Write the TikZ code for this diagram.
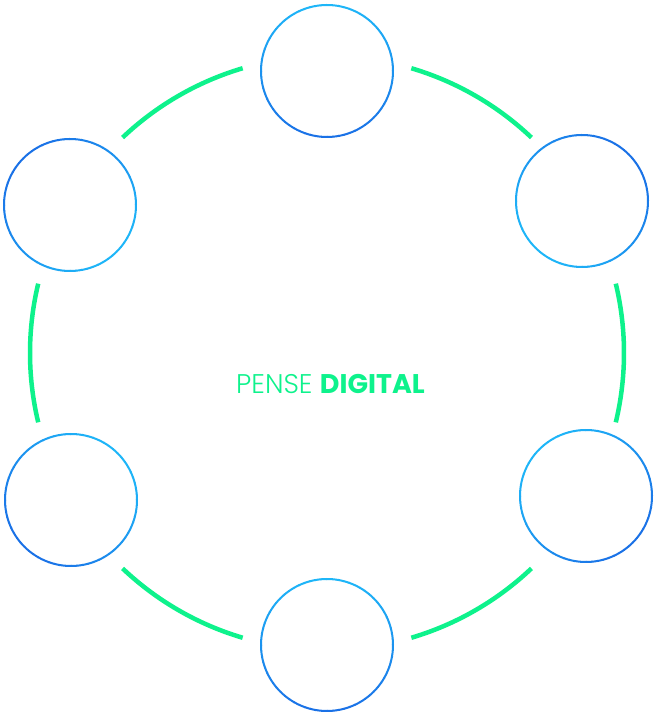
\documentclass[tikz,border=0pt]{standalone}
\usepackage{fontspec}
\setmainfont{Poppins}[UprightFont=* Light, BoldFont=* Bold]
\definecolor{ringgreen}{RGB}{14,242,140}
\definecolor{bluelight}{RGB}{30,182,248}
\definecolor{bluedark}{RGB}{26,112,230}

\begin{document}
\begin{tikzpicture}[x=1pt,y=1pt]
    \tikzset{hub/.style={circle,minimum size=132pt,inner sep=0pt}}
    \useasboundingbox (0,0) rectangle (655,715);
    \coordinate (centre) at (327,362);
    % green ring, six pieces
    \foreach \a in {0,60,...,300}
        \draw [ringgreen, line width=4.5pt] (centre) ++(\a-13.5:297) arc (\a-13.5:\a+13.5:297);
    % blue circles, stroke shaded from light to dark
    \foreach \name/\x/\y/\dir in {top/327/644/-90, upright/582/514/45, lowright/586/219/-45,
                                  bottom/327/70/-90, lowleft/71/215/-135, upleft/70/510/135} {
        \node [hub] (\name) at (\x,\y) {};
        \foreach \ang in {0,5,...,355} {
            \pgfmathtruncatemacro\mix{max(0,min(100,50+50*cos(\ang+2.5-\dir)))}
            \draw [bluedark!\mix!bluelight, line width=2pt] (\name.center) ++(\ang:66) arc (\ang:\ang+5.5:66);
        }
    }
    \node (title) at (330.5,321) [anchor=base, text=ringgreen, inner sep=0pt]
        {\fontsize{27}{27}\selectfont PENSE \textbf{DIGITAL}};
\end{tikzpicture}
\end{document}
